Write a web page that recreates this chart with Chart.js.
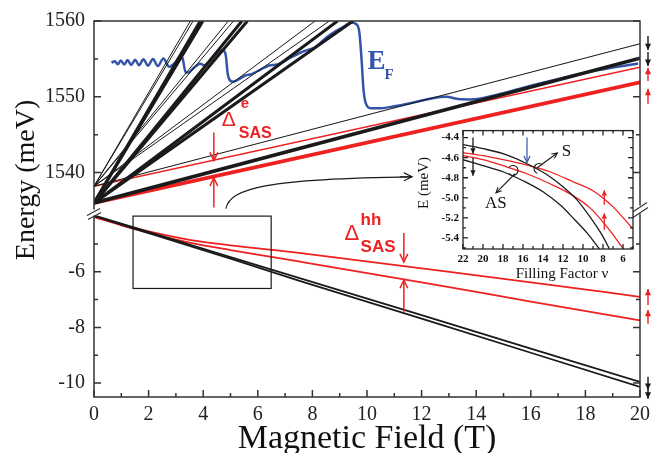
<!DOCTYPE html>
<html>
<head>
<meta charset="utf-8">
<script src="https://cdn.jsdelivr.net/npm/chart.js@4.4.1/dist/chart.umd.min.js"></script>
<style>
  html, body { margin: 0; padding: 0; background: #fff; }
  #wrap { position: relative; width: 656px; height: 453px; }
  #main { position: absolute; left: 0; top: 0; }
  #inset { position: absolute; left: 405px; top: 120px; }
</style>
</head>
<body>
<div id="wrap">
  <canvas id="main" width="656" height="453"></canvas>
  <canvas id="inset" width="240" height="168"></canvas>
</div>
<script>
// ---------- data ----------
// electron levels (upper panel), energies in meV at B = 0
const eSym0 = 1536.0;
const eAnti0 = 1538.2;
// lowest Landau level: energy at 20 T  [S down, S up, AS down, AS up]
const lowestAt20T = [1555.1, 1551.9, 1557.0, 1553.9];
// higher levels: field (T) where each line reaches the top (1560 meV)
const topFieldSym = [3.89, 3.99, 5.42, 5.62, 8.92, 9.49];
const topFieldAnti = [3.53, 3.63, 4.92, 5.11, 8.10, 8.62];

// Fermi energy
const efField = [0.64, 0.76, 0.87, 0.98, 1.11, 1.23, 1.36, 1.51, 1.65, 1.81, 1.98, 2.16, 2.34, 2.54, 2.76,
  2.82, 2.97, 3.18, 3.25, 3.36, 3.45, 3.65, 3.9, 4.05, 4.2, 4.45, 4.62, 4.72, 4.82, 4.9, 4.97, 5.1,
  5.3, 5.54, 5.77, 6.1, 6.39, 6.75, 7.22, 7.72, 8.08, 8.57, 9.17, 9.41, 9.6, 9.72, 9.8, 9.87, 9.95,
  10.14, 10.5, 11.0, 11.7, 12.4, 12.9, 13.35, 13.8, 14.74, 15.93, 17.17, 18.43, 19.93];
const efEnergy = [1554.5, 1554.7, 1554.3, 1554.8, 1554.25, 1554.85, 1554.2, 1554.9, 1554.15, 1554.95,
  1554.1, 1555.0, 1554.05, 1555.05, 1553.95, 1554.05, 1554.5, 1555.35, 1555.0, 1553.2, 1553.2, 1553.8,
  1554.35, 1554.15, 1554.5, 1555.5, 1556.1, 1556.15, 1555.6, 1553.0, 1552.2, 1552.0, 1552.3, 1552.8,
  1553.0, 1553.6, 1554.1, 1554.3, 1555.2, 1556.05, 1556.5, 1558.0, 1559.3, 1559.8, 1559.6, 1558.5,
  1555.0, 1551.0, 1549.2, 1548.5, 1548.5, 1548.75, 1549.25, 1549.8, 1550.0, 1549.7, 1549.65, 1550.25,
  1551.4, 1552.5, 1553.5, 1554.4];

// heavy-hole levels (lower panel)
const holeField = [0, 1, 2, 3.5, 5, 7.5, 12, 16, 20];
const holeBlackA = [-3.97, -4.27, -4.57, -5.02, -5.47, -6.22, -7.56, -8.76, -9.96];
const holeBlackB = [-4.0, -4.31, -4.61, -5.07, -5.53, -6.32, -7.68, -8.91, -10.14];
const holeRedA = [-4.02, -4.3, -4.55, -4.85, -5.05, -5.32, -5.88, -6.38, -6.9];
const holeRedB = [-4.03, -4.33, -4.6, -4.95, -5.22, -5.63, -6.38, -7.07, -7.75];

// tick labels
const upperTicks = [1540, 1550, 1560];
const lowerTicks = [-10, -8, -6];
const insetNuTicks = [6, 8, 10, 12, 14, 16, 18, 20, 22];
const insetETicks = [-5.4, -5.2, -5.0, -4.8, -4.6, -4.4];

// inset: hole energy vs filling factor
const inBlackANu = [22, 20, 18, 15.6, 13.6, 12, 10.6, 9.3, 8.1, 7.35];
const inBlackAE = [-4.47, -4.51, -4.56, -4.66, -4.77, -4.89, -5.02, -5.19, -5.37, -5.51];
const inBlackBNu = [22, 20, 18, 16, 14, 12.3, 11, 9.6, 8.35];
const inBlackBE = [-4.62, -4.68, -4.74, -4.83, -4.94, -5.07, -5.2, -5.35, -5.51];
const inRedANu = [22, 20, 18, 15.6, 13.3, 11, 9, 7, 5];
const inRedAE = [-4.55, -4.58, -4.62, -4.675, -4.74, -4.84, -4.93, -5.09, -5.31];
const inRedBNu = [22, 20, 18, 15.6, 13.3, 11.3, 9.3, 7.6, 5.95];
const inRedBE = [-4.58, -4.62, -4.68, -4.76, -4.86, -4.96, -5.10, -5.29, -5.51];

// ---------- helpers ----------
const SERIF = "'Liberation Serif', 'Times New Roman', serif";
const SANS = "'Liberation Sans', Arial, sans-serif";
const BLACK = "#1a1a1a";
const RED = "#ee2020";
const BLUE = "#3454aa";

function pairs(xs, ys) {
  return xs.map(function (v, i) { return { x: v, y: ys[i] }; });
}

function line(data, color, width, axis, smooth) {
  return {
    data: data,
    borderColor: color,
    borderWidth: width,
    yAxisID: axis,
    showLine: true,
    pointRadius: 0,
    fill: false,
    tension: 0,
    cubicInterpolationMode: smooth ? "monotone" : "default",
  };
}

function fixedTicks(values) {
  return function (s) { s.ticks = values.map(function (v) { return { value: v }; }); };
}

function fixWidth(w) { return function (s) { s.width = w; }; }

function plain(v) { return String(v); }

function arrow(ctx, x1, y1, x2, y2, color, w, head, filled) {
  const ang = Math.atan2(y2 - y1, x2 - x1);
  ctx.save();
  ctx.strokeStyle = color;
  ctx.fillStyle = color;
  ctx.lineWidth = w;
  ctx.beginPath();
  ctx.moveTo(x1, y1);
  ctx.lineTo(x2, y2);
  ctx.stroke();
  const a1 = ang + Math.PI - 0.45;
  const a2 = ang + Math.PI + 0.45;
  ctx.beginPath();
  ctx.moveTo(x2 + head * Math.cos(a1), y2 + head * Math.sin(a1));
  ctx.lineTo(x2, y2);
  ctx.lineTo(x2 + head * Math.cos(a2), y2 + head * Math.sin(a2));
  if (filled) {
    ctx.closePath();
    ctx.fill();
  } else {
    ctx.stroke();
  }
  ctx.restore();
}

// ---------- main chart datasets ----------
const datasets = [];
topFieldSym.forEach(function (b) {
  datasets.push(line([{ x: 0, y: eSym0 }, { x: b, y: 1560 }], BLACK, 3, "yU"));
});
topFieldAnti.forEach(function (b) {
  datasets.push(line([{ x: 0, y: eAnti0 }, { x: b, y: 1560 }], BLACK, 1, "yU"));
});
datasets.push(line([{ x: 0, y: eSym0 }, { x: 20, y: lowestAt20T[0] }], BLACK, 3.6, "yU"));
datasets.push(line([{ x: 0, y: eAnti0 }, { x: 20, y: lowestAt20T[2] }], BLACK, 1.2, "yU"));
datasets.push(line([{ x: 0, y: eAnti0 }, { x: 20, y: lowestAt20T[3] }], RED, 1.5, "yU"));
datasets.push(line([{ x: 0, y: eSym0 }, { x: 20, y: lowestAt20T[1] }], RED, 3.8, "yU"));
datasets.push(line(pairs(efField, efEnergy), BLUE, 2.5, "yU", true));
datasets.push(line(pairs(holeField, holeBlackA), BLACK, 1.8, "yL"));
datasets.push(line(pairs(holeField, holeBlackB), BLACK, 1.8, "yL"));
datasets.push(line(pairs(holeField, holeRedA), RED, 1.8, "yL", true));
datasets.push(line(pairs(holeField, holeRedB), RED, 1.8, "yL", true));

const mainDecor = {
  id: "mainDecor",
  afterDatasetsDraw: function (chart) {
    const ctx = chart.ctx;
    const a = chart.chartArea;
    const sx = chart.scales.x, yU = chart.scales.yU, yL = chart.scales.yL;
    const px = function (v) { return sx.getPixelForValue(v); };

    // frame
    ctx.save();
    ctx.strokeStyle = "#333";
    ctx.lineWidth = 1.5;
    ctx.strokeRect(a.left, a.top, a.right - a.left, a.bottom - a.top);

    // inward ticks
    ctx.beginPath();
    for (let b = 0; b <= 20; b++) {
      const len = b % 2 === 0 ? 7 : 4;
      ctx.moveTo(px(b), a.bottom);
      ctx.lineTo(px(b), a.bottom - len);
    }
    [[yU, [1540, 1550, 1560], [1545, 1555]], [yL, [-6, -8, -10], [-5, -7, -9]]].forEach(function (t) {
      t[1].concat(t[2]).forEach(function (v) {
        const len = t[1].indexOf(v) >= 0 ? 7 : 4;
        const y = t[0].getPixelForValue(v);
        ctx.moveTo(a.left, y); ctx.lineTo(a.left + len, y);
        ctx.moveTo(a.right, y); ctx.lineTo(a.right - len, y);
      });
    });
    ctx.stroke();

    // axis breaks
    const yb = yU.bottom;
    ctx.fillStyle = "#fff";
    ctx.fillRect(a.left - 3, yb - 3, 6, 6);
    ctx.fillRect(a.right - 3, yb - 7, 6, 8);
    ctx.beginPath();
    ctx.lineWidth = 1.2;
    ctx.moveTo(a.left - 7, yb + 3); ctx.lineTo(a.left + 6, yb - 4);
    ctx.moveTo(a.left - 6, yb + 7); ctx.lineTo(a.left + 7, yb);
    ctx.moveTo(a.right - 8, yb); ctx.lineTo(a.right + 7, yb - 10);
    ctx.moveTo(a.right - 7, yb + 5); ctx.lineTo(a.right + 8, yb - 5);
    ctx.stroke();

    // zoom box and curved arrow towards the inset
    ctx.strokeStyle = BLACK;
    ctx.lineWidth = 1.2;
    ctx.strokeRect(px(1.43), yL.getPixelForValue(-4.0), px(6.49) - px(1.43),
      yL.getPixelForValue(-6.6) - yL.getPixelForValue(-4.0));
    ctx.beginPath();
    ctx.moveTo(px(4.83), yU.getPixelForValue(1535.26));
    ctx.bezierCurveTo(px(5.0), yU.getPixelForValue(1538.0), px(6.37), yU.getPixelForValue(1539.2),
      px(11.65), yU.getPixelForValue(1539.45));
    ctx.stroke();
    arrow(ctx, px(11.2), yU.getPixelForValue(1539.45), px(11.65), yU.getPixelForValue(1539.45), BLACK, 1.2, 9, false);

    // Delta SAS (electrons)
    const xe = px(4.39);
    arrow(ctx, xe, yU.getPixelForValue(1545.3), xe, yU.getPixelForValue(1541.6), RED, 1.5, 9, false);
    arrow(ctx, xe, yU.getPixelForValue(1535.4), xe, yU.getPixelForValue(1539.3), RED, 1.5, 9, false);
    ctx.fillStyle = RED;
    ctx.textAlign = "left";
    ctx.textBaseline = "alphabetic";
    let dx = px(4.68), dy = yU.getPixelForValue(1546.2);
    ctx.font = "21px " + SANS;
    ctx.fillText("\u0394", dx, dy);
    ctx.font = "bold 15px " + SANS;
    ctx.fillText("e", dx + 19, dy - 18);
    ctx.font = "bold 16px " + SANS;
    ctx.fillText("SAS", dx + 17, dy + 12);

    // Delta SAS (heavy holes)
    const xh = px(11.35);
    arrow(ctx, xh, yL.getPixelForValue(-4.61), xh, yL.getPixelForValue(-5.65), RED, 1.5, 9, false);
    arrow(ctx, xh, yL.getPixelForValue(-7.44), xh, yL.getPixelForValue(-6.3), RED, 1.5, 9, false);
    dx = px(9.18); dy = yL.getPixelForValue(-4.864);
    ctx.font = "22px " + SANS;
    ctx.fillText("\u0394", dx, dy);
    ctx.font = "bold 17px " + SANS;
    ctx.fillText("hh", dx + 16, dy - 15);
    ctx.fillText("SAS", dx + 16, dy + 12);

    // E_F label
    ctx.fillStyle = BLUE;
    dx = px(10.02); dy = yU.getPixelForValue(1553.68);
    ctx.font = "bold 27px " + SERIF;
    ctx.fillText("E", dx, dy);
    ctx.font = "bold 15px " + SERIF;
    ctx.fillText("F", dx + 17, dy + 10);

    // spin arrows outside the right axis
    const xr = a.right + 8;
    arrow(ctx, xr, yU.getPixelForValue(1558.03), xr, yU.getPixelForValue(1556.18), BLACK, 1.4, 7, true);
    arrow(ctx, xr, yU.getPixelForValue(1555.92), xr, yU.getPixelForValue(1554.08), BLACK, 1.4, 7, true);
    arrow(ctx, xr, yU.getPixelForValue(1552.1), xr, yU.getPixelForValue(1553.82), RED, 1.4, 7, true);
    arrow(ctx, xr, yU.getPixelForValue(1549.08), xr, yU.getPixelForValue(1551.05), RED, 1.4, 7, true);
    arrow(ctx, xr, yL.getPixelForValue(-7.19), xr, yL.getPixelForValue(-6.62), RED, 1.4, 7, true);
    arrow(ctx, xr, yL.getPixelForValue(-7.87), xr, yL.getPixelForValue(-7.37), RED, 1.4, 7, true);
    arrow(ctx, xr, yL.getPixelForValue(-9.77), xr, yL.getPixelForValue(-10.24), BLACK, 1.4, 7, true);
    arrow(ctx, xr, yL.getPixelForValue(-10.1), xr, yL.getPixelForValue(-10.56), BLACK, 1.4, 7, true);

    // axis titles
    ctx.fillStyle = "#111";
    ctx.textAlign = "center";
    ctx.textBaseline = "middle";
    ctx.font = "34px " + SERIF;
    ctx.fillText("Magnetic Field (T)", 367, 439);
    ctx.font = "28px " + SERIF;
    ctx.translate(27, 180);
    ctx.rotate(-Math.PI / 2);
    ctx.fillText("Energy (meV)", 0, 0);
    ctx.restore();
  },
};

new Chart(document.getElementById("main").getContext("2d"), {
  type: "scatter",
  data: { datasets: datasets },
  options: {
    responsive: false,
    animation: false,
    layout: { padding: { top: 20, right: 11, left: 0, bottom: 0 } },
    plugins: { legend: { display: false }, tooltip: { enabled: false } },
    scales: {
      x: {
        type: "linear", min: 0, max: 20,
        grid: { display: false, drawTicks: false }, border: { display: false },
        ticks: { stepSize: 2, padding: 6, maxRotation: 0, autoSkip: false, color: "#222",
          font: { family: SERIF, size: 20 }, callback: plain },
        afterFit: function (s) { s.height = 56; },
      },
      // lower panel first: the later stacked scale ends up on top
      yL: {
        type: "linear", position: "left", stack: "energy", stackWeight: 185,
        min: -10.5, max: -3.87,
        grid: { display: false, drawTicks: false }, border: { display: false },
        ticks: { padding: 9, autoSkip: false, color: "#222", font: { family: SERIF, size: 20 }, callback: plain },
        afterBuildTicks: fixedTicks(lowerTicks),
        afterFit: fixWidth(94),
      },
      yU: {
        type: "linear", position: "left", stack: "energy", stackWeight: 192,
        min: 1534.74, max: 1560,
        grid: { display: false, drawTicks: false }, border: { display: false },
        ticks: { padding: 9, autoSkip: false, color: "#222", font: { family: SERIF, size: 20 }, callback: plain },
        afterBuildTicks: fixedTicks(upperTicks),
        afterFit: fixWidth(94),
      },
    },
  },
  plugins: [mainDecor],
});

// ---------- inset ----------
const insetDecor = {
  id: "insetDecor",
  beforeDatasetsDraw: function (chart) {
    const a = chart.chartArea;
    chart.ctx.save();
    chart.ctx.fillStyle = "#fff";
    chart.ctx.fillRect(a.left, a.top, a.right - a.left, a.bottom - a.top);
    chart.ctx.restore();
  },
  afterDatasetsDraw: function (chart) {
    const ctx = chart.ctx;
    const a = chart.chartArea;
    const sx = chart.scales.x, sy = chart.scales.y;
    const px = function (v) { return sx.getPixelForValue(v); };
    const py = function (v) { return sy.getPixelForValue(v); };

    ctx.save();
    ctx.strokeStyle = "#222";
    ctx.lineWidth = 1.3;
    ctx.strokeRect(a.left, a.top, a.right - a.left, a.bottom - a.top);
    ctx.beginPath();
    for (let n = 5; n <= 22; n++) {
      const len = n % 2 === 0 ? 5 : 3;
      ctx.moveTo(px(n), a.bottom); ctx.lineTo(px(n), a.bottom - len);
      ctx.moveTo(px(n), a.top); ctx.lineTo(px(n), a.top + len);
    }
    for (let k = 44; k <= 55; k++) {
      const len = k % 2 === 0 ? 5 : 3;
      const y = py(-k / 10);
      ctx.moveTo(a.left, y); ctx.lineTo(a.left + len, y);
      ctx.moveTo(a.right, y); ctx.lineTo(a.right - len, y);
    }
    ctx.stroke();

    // spin arrows
    arrow(ctx, px(21), py(-4.40), px(21), py(-4.56), BLACK, 1.3, 6, true);
    arrow(ctx, px(21), py(-4.60), px(21), py(-4.78), BLACK, 1.3, 6, true);
    arrow(ctx, px(7.87), py(-5.07), px(7.87), py(-4.924), RED, 1.3, 6, true);
    arrow(ctx, px(7.87), py(-5.317), px(7.87), py(-5.153), RED, 1.3, 6, true);
    arrow(ctx, px(15.6), py(-4.40), px(15.6), py(-4.646), BLUE, 1.2, 7, false);

    // S / AS markers
    ctx.strokeStyle = BLACK;
    ctx.lineWidth = 1.1;
    ctx.beginPath();
    ctx.arc(px(14.4), py(-4.708), 5, -0.25 * Math.PI, 0.6 * Math.PI, true);
    ctx.stroke();
    ctx.beginPath();
    ctx.arc(px(17.0), py(-4.727), 5, 1.2 * Math.PI, 0.8 * Math.PI, false);
    ctx.stroke();
    arrow(ctx, px(14.57), py(-4.70), px(12.57), py(-4.553), BLACK, 1.1, 6, false);
    arrow(ctx, px(16.8), py(-4.76), px(18.7), py(-4.95), BLACK, 1.1, 6, false);
    ctx.fillStyle = "#111";
    ctx.font = "17px " + SERIF;
    ctx.textAlign = "left";
    ctx.fillText("S", px(12.13), py(-4.58));
    ctx.fillText("AS", px(19.8), py(-5.10));

    // titles
    ctx.font = "15px " + SERIF;
    ctx.textAlign = "center";
    ctx.textBaseline = "alphabetic";
    ctx.fillText("Filling Factor \u03bd", 157, 158);
    ctx.translate(19, 63);
    ctx.rotate(-Math.PI / 2);
    ctx.textBaseline = "middle";
    ctx.fillText("E (meV)", 0, 0);
    ctx.restore();
  },
};

new Chart(document.getElementById("inset").getContext("2d"), {
  type: "scatter",
  data: {
    datasets: [
      line(pairs(inBlackANu, inBlackAE), BLACK, 1.3, "y", true),
      line(pairs(inBlackBNu, inBlackBE), BLACK, 1.3, "y", true),
      line(pairs(inRedANu, inRedAE), RED, 1.3, "y", true),
      line(pairs(inRedBNu, inRedBE), RED, 1.3, "y", true),
    ],
  },
  options: {
    responsive: false,
    animation: false,
    layout: { padding: { top: 10, right: 12, left: 0, bottom: 0 } },
    plugins: { legend: { display: false }, tooltip: { enabled: false } },
    scales: {
      x: {
        type: "linear", reverse: true, min: 5, max: 22,
        grid: { display: false, drawTicks: false }, border: { display: false },
        ticks: {
          padding: 4, maxRotation: 0, autoSkip: false, color: "#111",
          font: { family: SERIF, size: 11, weight: "bold" }, callback: plain,
        },
        afterBuildTicks: fixedTicks(insetNuTicks),
        afterFit: function (s) { s.height = 39; },
      },
      y: {
        type: "linear", min: -5.51, max: -4.33,
        grid: { display: false, drawTicks: false }, border: { display: false },
        ticks: {
          padding: 4, autoSkip: false, color: "#111",
          font: { family: SERIF, size: 11, weight: "bold" },
          callback: function (v) { return v.toFixed(1); },
        },
        afterBuildTicks: fixedTicks(insetETicks),
        afterFit: fixWidth(58),
      },
    },
  },
  plugins: [insetDecor],
});
</script>
</body>
</html>
